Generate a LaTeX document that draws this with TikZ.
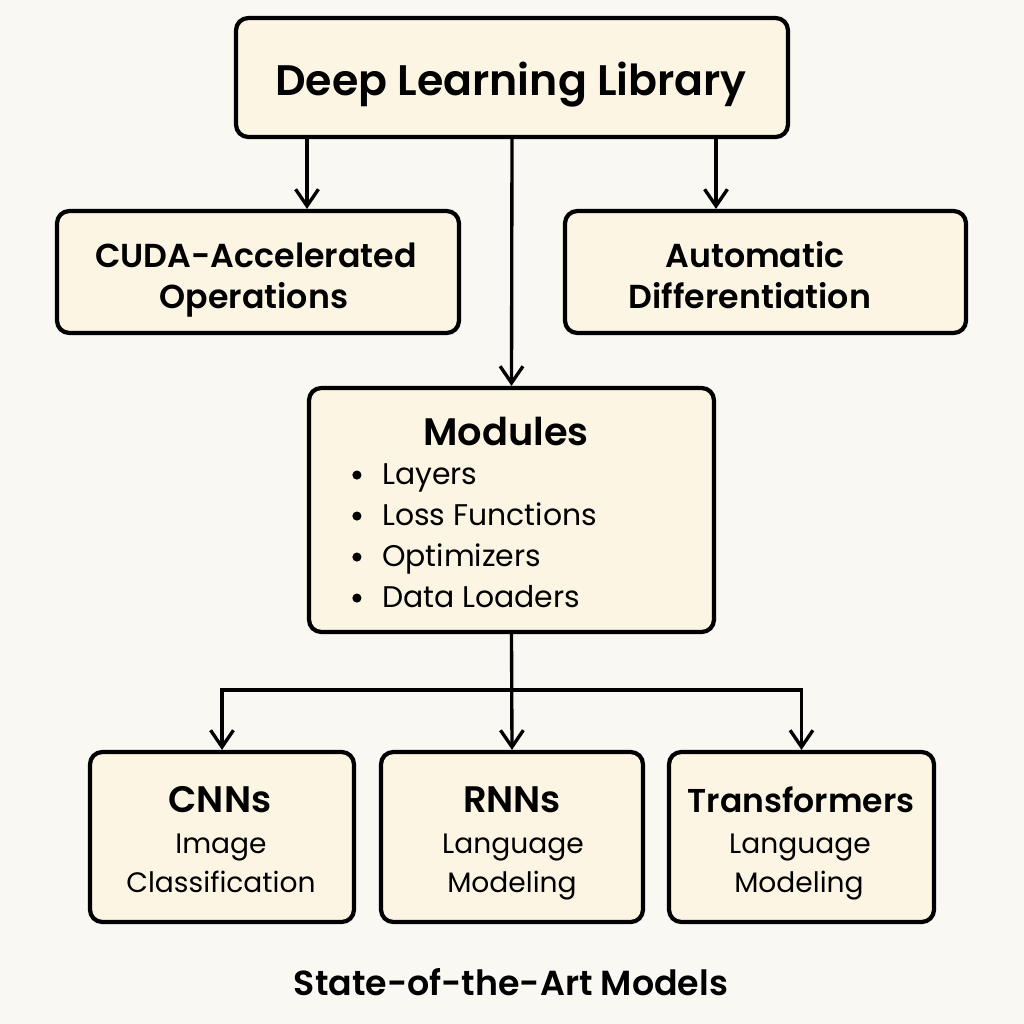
\documentclass[tikz,border=0pt]{standalone}
\usepackage{fontspec}
\IfFontExistsTF{Poppins SemiBold}{\setmainfont{Poppins}[BoldFont={Poppins SemiBold}]}{\setmainfont{Poppins}}
\usetikzlibrary{arrows.meta}
\definecolor{bgc}{RGB}{250,248,243}
\definecolor{boxc}{RGB}{253,245,228}
\newcommand{\bdot}{\makebox[17pt][l]{\raisebox{2.5pt}{\tikz\fill (0,0) circle (2.6pt);}}}
\begin{document}
\begin{tikzpicture}[x=0.02cm,y=-0.02cm,
  box/.style={draw=black,fill=boxc,line width=2.4pt,rounded corners=7pt,inner sep=0pt},
  arr/.style={draw=black,line width=1.9pt,-{Straight Barb[length=9.5pt,width=13pt,line width=1.9pt]}},
  txt/.style={inner sep=0pt,anchor=base},
  bul/.style={inner sep=0pt,anchor=base west,font=\fontsize{17}{20}\selectfont}
]
\fill[bgc] (0,0) rectangle (1024,1024);
\useasboundingbox (0,0) rectangle (1024,1024);
% boxes
\node[box,minimum width=552*0.02cm,minimum height=119*0.02cm] (top) at (512,77.5) {};
\node[box,minimum width=402*0.02cm,minimum height=122*0.02cm] (cuda) at (258,272) {};
\node[box,minimum width=401*0.02cm,minimum height=122*0.02cm] (auto) at (765.5,272) {};
\node[box,minimum width=405*0.02cm,minimum height=244*0.02cm] (mod) at (511.5,510) {};
\node[box,minimum width=264*0.02cm,minimum height=170*0.02cm] (cnn) at (222,837) {};
\node[box,minimum width=262*0.02cm,minimum height=170*0.02cm] (rnn) at (512,837) {};
\node[box,minimum width=265*0.02cm,minimum height=170*0.02cm] (tr) at (801.5,837) {};
% texts
\node[txt,font=\fontsize{24.3}{30}\bfseries\selectfont] (ttop) at (511,95) {Deep Learning Library};
\node[txt,font=\fontsize{18.9}{22}\bfseries\selectfont] (tc1) at (256,267) {CUDA-Accelerated};
\node[txt,font=\fontsize{18.9}{22}\bfseries\selectfont] (tc2) at (254,308) {Operations};
\node[txt,font=\fontsize{18.9}{22}\bfseries\selectfont] (ta1) at (755,267) {Automatic};
\node[txt,font=\fontsize{18.9}{22}\bfseries\selectfont] (ta2) at (750,308) {Differentiation};
\node[txt,font=\fontsize{21.8}{26}\bfseries\selectfont] (tm) at (506,445) {Modules};
\node[bul] (b1) at (352,484) {\bdot Layers};
\node[bul] (b2) at (352,525) {\bdot Loss Functions};
\node[bul] (b3) at (352,566) {\bdot Optimizers};
\node[bul] (b4) at (352,607) {\bdot Data Loaders};
\node[txt,font=\fontsize{21}{24}\bfseries\selectfont] (tcnn) at (220,812) {CNNs};
\node[txt,font=\fontsize{16}{20}\selectfont] (tcnn2) at (221,853) {Image};
\node[txt,font=\fontsize{16}{20}\selectfont] (tcnn3) at (221,892) {Classification};
\node[txt,font=\fontsize{21}{24}\bfseries\selectfont] (trnn) at (512,812) {RNNs};
\node[txt,font=\fontsize{16}{20}\selectfont] (trnn2) at (513,853) {Language};
\node[txt,font=\fontsize{16}{20}\selectfont] (trnn3) at (512,892) {Modeling};
\node[txt,font=\fontsize{18.8}{24}\bfseries\selectfont] (ttr) at (801,812) {Transformers};
\node[txt,font=\fontsize{16}{20}\selectfont] (ttr2) at (800,853) {Language};
\node[txt,font=\fontsize{16}{20}\selectfont] (ttr3) at (799,892) {Modeling};
\node[txt,font=\fontsize{19.8}{25}\bfseries\selectfont] (foot) at (511,995) {State-of-the-Art Models};
% connectors
\coordinate (xl) at (307,0);
\coordinate (xr) at (716,0);
\coordinate (hy) at (512,690);
\draw[arr] (top.south -| xl) -- (cuda.north -| xl);
\draw[arr] (top.south -| xr) -- (auto.north -| xr);
\draw[arr] (top.south) -- (mod.north);
\draw[arr] (mod.south) -- (rnn.north);
\draw[arr] (hy) -| (cnn.north);
\draw[arr] (hy) -| (tr.north);
\end{tikzpicture}
\end{document}
